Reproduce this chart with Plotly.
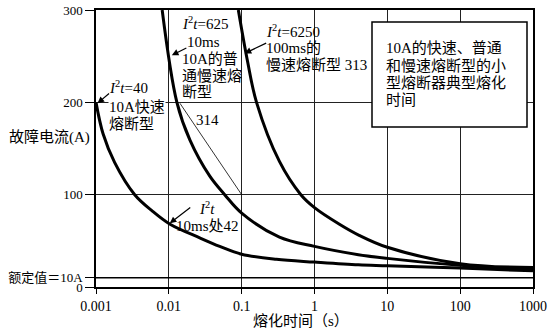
import math
import plotly.graph_objects as go

# ---------------- data ----------------
fast_t = [0.001, 0.00125, 0.0018, 0.0034, 0.006, 0.0104, 0.027, 0.05, 0.1, 0.3, 1, 4, 10, 100, 1000]
fast_i = [200, 166, 135, 100, 82, 68, 53, 44, 35.5, 30, 27, 24, 23, 20.5, 17.5]

normal_t = [0.0081, 0.0129, 0.0195, 0.0365, 0.0585, 0.1, 0.33, 1, 4, 10, 100, 1000]
normal_i = [300, 200, 159, 120, 100, 80, 54, 44, 35, 31, 23.5, 19]

slow_t = [0.09, 0.12, 0.16, 0.33, 0.65, 1, 2.2, 4.1, 10, 100, 1000]
slow_i = [300, 245, 200, 136, 100, 86, 68, 56, 43, 25.3, 21]

rated_t = [0.001, 1000]
rated_i = [10, 10]

leader_314_t = [0.0142, 0.1]
leader_314_i = [199, 100]

x_ticks = [0.001, 0.01, 0.1, 1, 10, 100, 1000]
x_ticktext = ["0.001", "0.01", "0.1", "1", "10", "100", "1000"]
y_ticks = [0, 10, 100, 200, 300]
y_ticktext = ["0", "额定值＝10A", "100", "200", "300"]

# ---------------- layout geometry ----------------
W, H = 550, 330
L, R, T, B = 96, 17, 10, 43
PW, PH = W - L - R, H - T - B

FONT = "Liberation Serif, Noto Sans CJK SC, serif"


def px(xpix):
    return (xpix - L) / PW


def py(ypix):
    return (H - B - ypix) / PH


fig = go.Figure()

for t, i in [(fast_t, fast_i), (normal_t, normal_i), (slow_t, slow_i)]:
    fig.add_trace(go.Scatter(x=t, y=i, mode="lines",
                             line=dict(color="black", width=3, shape="spline", smoothing=1.0),
                             hoverinfo="skip", showlegend=False))

fig.add_trace(go.Scatter(x=rated_t, y=rated_i, mode="lines",
                         line=dict(color="black", width=1.5), showlegend=False, hoverinfo="skip"))
fig.add_trace(go.Scatter(x=leader_314_t, y=leader_314_i, mode="lines",
                         line=dict(color="black", width=0.8), showlegend=False, hoverinfo="skip"))

anns = []


def text(s, xpix, ypix, xanchor="left", size=15, bg=None):
    shift = -2 if xanchor == "left" else 0
    d = dict(text=s, x=px(xpix + shift), y=py(ypix), xref="paper", yref="paper",
             xanchor=xanchor, yanchor="middle", showarrow=False, borderpad=0,
             font=dict(family=FONT, size=size, color="black"))
    if bg:
        d["bgcolor"] = bg
    anns.append(d)


def arrow(head_t, head_i, ax, ay):
    anns.append(dict(text="", x=math.log10(head_t), y=head_i, xref="x", yref="y",
                     ax=ax, ay=ay, showarrow=True, arrowhead=2, arrowsize=1.1,
                     arrowwidth=1.2, arrowcolor="black"))


I2T = "<i>I</i><sup>2</sup><i>t</i>"

# I2t = 40
text(I2T + "=40", 110, 87)
text("10A快速", 110, 107, bg="white")
text("熔断型", 110, 124, bg="white")
arrow(0.00105, 199, 13, -11)

# I2t = 625
text(I2T + "=625", 183, 23)
text("10ms", 203, 42, xanchor="center")
text("10A的普", 183, 59)
text("通慢速熔", 183, 76)
text("断型", 183, 92)
arrow(0.011, 251, 16, -8)

# I2t = 6250
text(I2T + "=6250", 267, 31)
text("100ms的", 267, 48)
text("慢速熔断型 313", 267, 65)
arrow(0.11, 253, 23, -11)

# 10 ms marker on fast curve
text(I2T, 200, 208)
text("10ms处42", 177, 226)
arrow(0.0103, 69, 22, -17)

text("314", 197, 120)

# Boxed description
text("10A的快速、普通", 387, 48)
text("和慢速熔断型的小", 387, 66)
text("型熔断器典型熔化", 387, 83)
text("时间", 387, 100)

# Axis titles
text("故障电流(A)", 10, 137)
text("熔化时间（s）", 301, 321, xanchor="center")

fig.update_layout(
    width=W, height=H,
    margin=dict(l=L, r=R, t=T, b=B, autoexpand=False),
    paper_bgcolor="white", plot_bgcolor="white",
    font=dict(family=FONT, size=14, color="black"),
    annotations=anns,
    shapes=[dict(type="rect", xref="paper", yref="paper",
                 x0=px(372), x1=px(527), y0=py(127), y1=py(22),
                 line=dict(color="black", width=1.5), fillcolor="white", layer="above")],
)

fig.update_xaxes(type="log", range=[-3, 3], tickvals=x_ticks, ticktext=x_ticktext,
                 automargin=False,
                 showgrid=True, gridcolor="#222", gridwidth=1,
                 showline=True, mirror=True, linecolor="black", linewidth=1.5,
                 ticks="outside", ticklen=5, tickcolor="black",
                 tickfont=dict(family=FONT, size=14), zeroline=False)
fig.update_yaxes(range=[0, 300], tickvals=y_ticks, ticktext=y_ticktext,
                 automargin=False,
                 showgrid=True, gridcolor="#222", gridwidth=1,
                 showline=True, mirror=True, linecolor="black", linewidth=1.5,
                 ticks="outside", ticklen=9, tickcolor="black",
                 tickfont=dict(family=FONT, size=13), zeroline=False)

fig.write_html("out.html")
